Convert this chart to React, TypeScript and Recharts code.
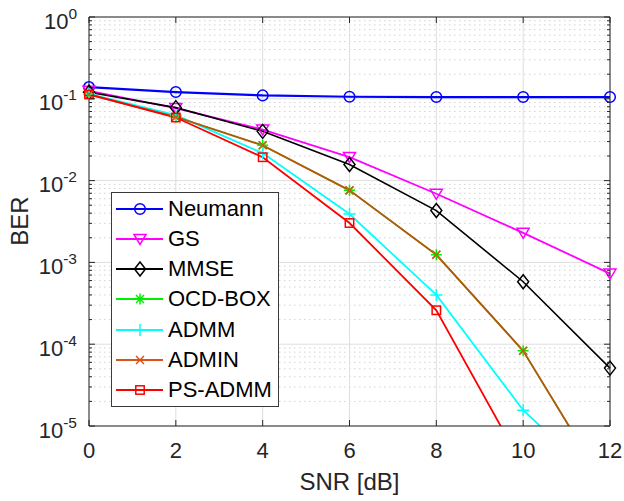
import { LineChart, Line, XAxis, YAxis, CartesianGrid } from "recharts";

const SNR = [0, 2, 4, 6, 8, 10, 12];
const NEUMANN = [0.139, 0.121, 0.11, 0.106, 0.105, 0.105, 0.105];
const GS = [0.125, 0.077, 0.042, 0.0194, 0.0069, 0.0023, 0.00073];
const MMSE = [0.12, 0.078, 0.04, 0.0157, 0.0043, 0.00058, 0.000051];
const OCD_BOX = [0.113, 0.06, 0.027, 0.0076, 0.00124, 0.000083, 0.0000015];
const ADMM = [0.115, 0.063, 0.0217, 0.0039, 0.0004, 0.0000156, 0.0000016];
const ADMIN = [0.113, 0.06, 0.027, 0.0076, 0.00124, 0.000083, 0.0000015];
const PS_ADMM = [0.113, 0.059, 0.0193, 0.00303, 0.00026, 0.0000032, 0.00000004];

const X_TICKS = [0, 2, 4, 6, 8, 10, 12];
const Y_DECADES = [1e-5, 1e-4, 1e-3, 1e-2, 1e-1, 1];
const Y_MINOR = [-5, -4, -3, -2, -1].flatMap((e) =>
  [2, 3, 4, 5, 6, 7, 8, 9].map((k) => k * Math.pow(10, e))
);
const Y_TICKS = [...Y_DECADES, ...Y_MINOR];

const SERIES = [
  { key: "neumann", name: "Neumann", values: NEUMANN, color: "#0000ff", line: "#0000ff", marker: "circle", width: 2.2 },
  { key: "gs", name: "GS", values: GS, color: "#ff00ff", line: "#ff00ff", marker: "triangle", width: 1.8 },
  { key: "mmse", name: "MMSE", values: MMSE, color: "#000000", line: "#000000", marker: "diamond", width: 1.6 },
  { key: "ocd", name: "OCD-BOX", values: OCD_BOX, color: "#00ee00", line: "#00ee00", marker: "asterisk", width: 1.2 },
  { key: "admm", name: "ADMM", values: ADMM, color: "#00ffff", line: "#00ffff", marker: "plus", width: 1.8 },
  { key: "admin", name: "ADMIN", values: ADMIN, color: "#d95319", line: "#b05a0a", marker: "x", width: 1.9 },
  { key: "ps", name: "PS-ADMM", values: PS_ADMM, color: "#ff0000", line: "#ff0000", marker: "square", width: 1.8 },
];

const data = SNR.map((snr, i) => {
  const row: Record<string, number> = { snr };
  SERIES.forEach((s) => (row[s.key] = s.values[i]));
  return row;
});

const FONT = "'Liberation Sans', Arial, Helvetica, sans-serif";
const INK = "#262626";

function Marker({ cx, cy, kind, color }: { cx: number; cy: number; kind: string; color: string }) {
  const sw = 1.5;
  if (kind === "circle")
    return <circle cx={cx} cy={cy} r={5.3} fill="none" stroke={color} strokeWidth={sw} />;
  if (kind === "triangle")
    return (
      <polygon
        points={`${cx - 6},${cy - 4.5} ${cx + 6},${cy - 4.5} ${cx},${cy + 5.5}`}
        fill="none"
        stroke={color}
        strokeWidth={sw}
      />
    );
  if (kind === "diamond")
    return (
      <polygon
        points={`${cx},${cy - 7} ${cx + 5.5},${cy} ${cx},${cy + 7} ${cx - 5.5},${cy}`}
        fill="none"
        stroke={color}
        strokeWidth={sw}
      />
    );
  if (kind === "square")
    return <rect x={cx - 4.2} y={cy - 4.2} width={8.4} height={8.4} fill="none" stroke={color} strokeWidth={sw} />;
  if (kind === "plus")
    return (
      <path d={`M${cx - 6},${cy}H${cx + 6}M${cx},${cy - 6}V${cy + 6}`} stroke={color} strokeWidth={sw} />
    );
  if (kind === "x")
    return (
      <path
        d={`M${cx - 4},${cy - 4}L${cx + 4},${cy + 4}M${cx - 4},${cy + 4}L${cx + 4},${cy - 4}`}
        stroke={color}
        strokeWidth={sw}
      />
    );
  // asterisk
  return (
    <path
      d={`M${cx - 5.5},${cy}H${cx + 5.5}M${cx},${cy - 5.5}V${cy + 5.5}M${cx - 4},${cy - 4}L${cx + 4},${cy + 4}M${cx - 4},${cy + 4}L${cx + 4},${cy - 4}`}
      stroke={color}
      strokeWidth={sw}
    />
  );
}

function isDecade(v: number) {
  return Y_DECADES.some((d) => Math.abs(v / d - 1) < 1e-6);
}

function BottomTick(props: any) {
  const { x, y, payload } = props;
  return (
    <g>
      <line x1={x} x2={x} y1={y} y2={y - 6} stroke={INK} strokeWidth={1} />
      <text x={x} y={y + 32} textAnchor="middle" fill={INK} fontSize={22} fontFamily={FONT}>
        {payload.value}
      </text>
    </g>
  );
}

function TopTick(props: any) {
  const { x, y } = props;
  return <line x1={x} x2={x} y1={y} y2={y + 6} stroke={INK} strokeWidth={1} />;
}

function LeftTick(props: any) {
  const { x, y, payload } = props;
  const major = isDecade(payload.value);
  if (!major) return <line x1={x} x2={x + 3} y1={y} y2={y} stroke={INK} strokeWidth={1} />;
  const exp = Math.round(Math.log10(payload.value));
  return (
    <g>
      <line x1={x} x2={x + 6} y1={y} y2={y} stroke={INK} strokeWidth={1} />
      <text x={x - 12} y={y + 11.5} textAnchor="end" fill={INK} fontFamily={FONT}>
        <tspan fontSize={22}>10</tspan>
        <tspan fontSize={15.5} dy={-10}>
          {exp === 0 ? "0" : `-${-exp}`}
        </tspan>
      </text>
    </g>
  );
}

function RightTick(props: any) {
  const { x, y, payload } = props;
  const len = isDecade(payload.value) ? 6 : 3;
  return <line x1={x} x2={x - len} y1={y} y2={y} stroke={INK} strokeWidth={1} />;
}

function LegendBox() {
  return (
    <div
      style={{
        position: "absolute",
        left: 111,
        top: 192,
        width: 166,
        height: 213,
        border: "1px solid #3a3a3a",
        background: "#ffffff",
        fontFamily: FONT,
        fontSize: 22,
        color: "#000000",
      }}
    >
      {SERIES.map((s, i) => (
        <div
          key={s.key}
          style={{
            position: "absolute",
            left: 0,
            top: 0.5 + i * 30.3,
            height: 30,
            display: "flex",
            alignItems: "center",
            whiteSpace: "nowrap",
          }}
        >
          <svg width={56} height={30} style={{ display: "block" }}>
            <line x1={4} x2={51} y1={15} y2={15} stroke={s.color} strokeWidth={1.8} />
            <Marker cx={28} cy={15} kind={s.marker} color={s.color} />
          </svg>
          <span>{s.name}</span>
        </div>
      ))}
    </div>
  );
}

export default function App() {
  return (
    <div style={{ position: "absolute", left: 0, top: 0, width: 624, height: 501, background: "#fff" }}>
      <LineChart width={624} height={501} data={data} margin={{ top: 0, right: 0, bottom: 0, left: 0 }}>
        <CartesianGrid
          stroke="#d2d2d2"
          strokeDasharray="1.5 3.5"
          vertical={false}
          horizontalValues={Y_MINOR}
        />
        <CartesianGrid stroke="#dedede" horizontalValues={Y_DECADES} verticalValues={X_TICKS} />
        <XAxis
          dataKey="snr"
          type="number"
          domain={[0, 12]}
          ticks={X_TICKS}
          interval={0}
          height={75}
          tickSize={0}
          tickMargin={0}
          tickLine={false}
          tick={<BottomTick />}
          stroke={INK}
          label={{
            value: "SNR [dB]",
            position: "insideBottom",
            offset: 11,
            fill: INK,
            fontSize: 24,
            fontFamily: FONT,
          }}
        />
        <XAxis
          xAxisId="top"
          orientation="top"
          dataKey="snr"
          type="number"
          domain={[0, 12]}
          ticks={X_TICKS}
          interval={0}
          height={17}
          tickSize={0}
          tickMargin={0}
          tickLine={false}
          tick={<TopTick />}
          stroke={INK}
        />
        <YAxis
          scale="log"
          domain={[1e-5, 1]}
          allowDataOverflow
          ticks={Y_TICKS}
          interval={0}
          width={89}
          tickSize={0}
          tickMargin={0}
          tickLine={false}
          tick={<LeftTick />}
          stroke={INK}
        />
        <YAxis
          yAxisId="right"
          orientation="right"
          scale="log"
          domain={[1e-5, 1]}
          allowDataOverflow
          ticks={Y_TICKS}
          interval={0}
          width={14}
          tickSize={0}
          tickMargin={0}
          tickLine={false}
          tick={<RightTick />}
          stroke={INK}
        />
        {SERIES.map((s) => (
          <Line
            key={s.key}
            dataKey={s.key}
            name={s.name}
            type="linear"
            stroke={s.line}
            strokeWidth={s.width}
            isAnimationActive={false}
            activeDot={false}
            dot={(p: any) => (
              <Marker key={`${s.key}-${p.index}`} cx={p.cx} cy={p.cy} kind={s.marker} color={s.color} />
            )}
          />
        ))}
        <text
          x={28}
          y={221}
          transform="rotate(-90 28 221)"
          textAnchor="middle"
          fill={INK}
          fontSize={24}
          fontFamily={FONT}
        >
          BER
        </text>
      </LineChart>
      <LegendBox />
    </div>
  );
}
